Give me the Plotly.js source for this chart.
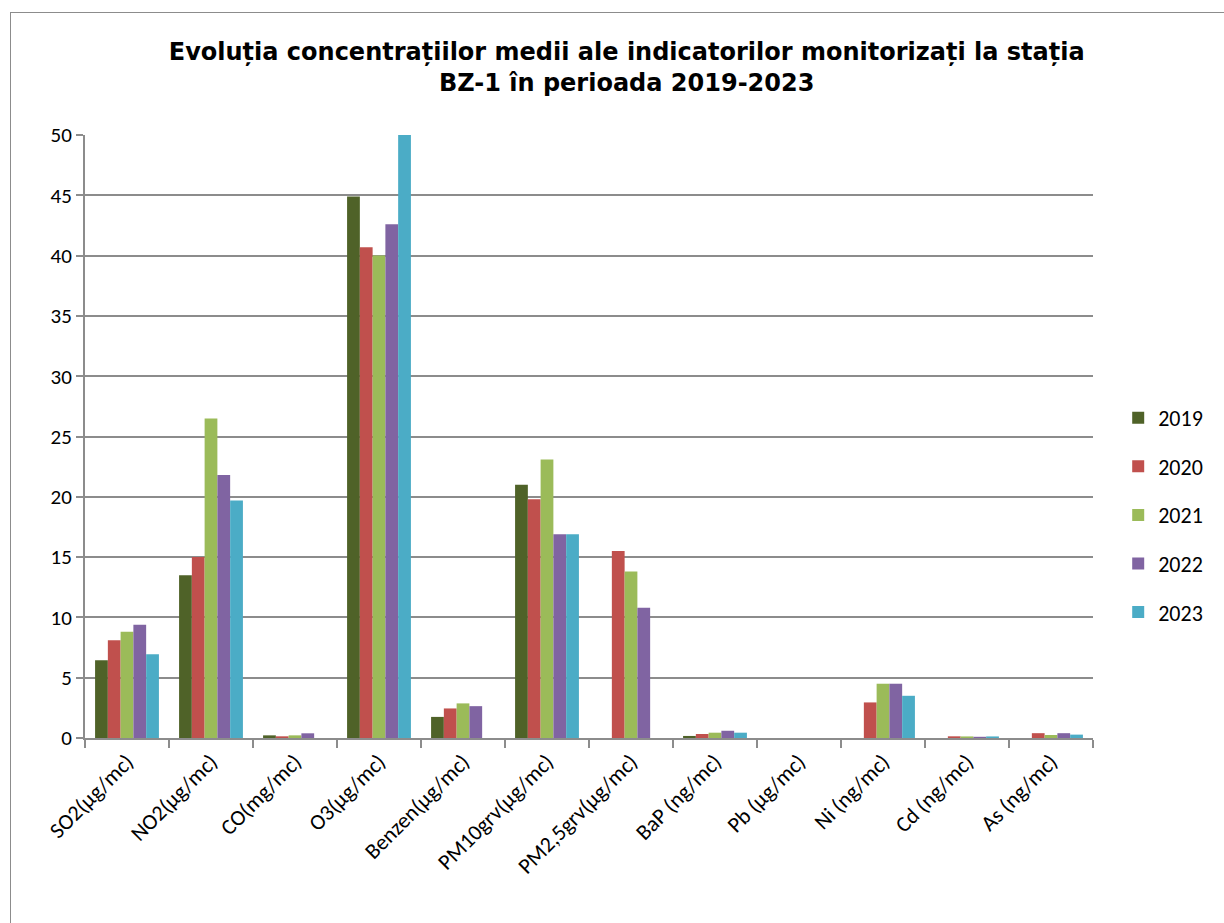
<!DOCTYPE html>
<html>
<head>
<meta charset="utf-8">
<script src="https://cdn.plot.ly/plotly-3.0.1.min.js"></script>
<style>
  html, body { margin: 0; padding: 0; background: #fff; overflow: hidden; }
  #chart { width: 1224px; height: 923px; position: absolute; left: 0; top: 0; }
  #frame { position: absolute; left: 10px; top: 12px; width: 1400px; height: 1100px; border: 1px solid #8c8c8c; pointer-events: none; }
</style>
</head>
<body>
<div id="chart"></div>
<div id="frame"></div>
<script>
const categories = ["SO2(µg/mc)", "NO2(µg/mc)", "CO(mg/mc)", "O3(µg/mc)", "Benzen(µg/mc)", "PM10grv(µg/mc)", "PM2,5grv(µg/mc)", "BaP (ng/mc)", "Pb (µg/mc)", "Ni (ng/mc)", "Cd (ng/mc)", "As (ng/mc)"];
const years = ["2019", "2020", "2021", "2022", "2023"];
const v2019 = [6.45, 13.5, 0.22, 44.9, 1.75, 21.0, null, 0.17, null, null, null, null];
const v2020 = [8.1, 15.0, 0.14, 40.7, 2.45, 19.8, 15.5, 0.33, null, 2.95, 0.14, 0.4];
const v2021 = [8.8, 26.5, 0.22, 40.0, 2.87, 23.1, 13.8, 0.44, null, 4.5, 0.13, 0.25];
const v2022 = [9.4, 21.8, 0.39, 42.6, 2.64, 16.9, 10.8, 0.6, null, 4.5, 0.1, 0.4];
const v2023 = [6.95, 19.7, null, 50.0, null, 16.9, null, 0.44, null, 3.5, 0.13, 0.28];
const colors = ["#4f6228", "#c0504d", "#9bbb59", "#8064a2", "#4bacc6"];

const series = [v2019, v2020, v2021, v2022, v2023];
const font = "Carlito, Lato, 'Liberation Sans', sans-serif";

const data = series.map((vals, i) => ({
  type: "bar",
  name: years[i],
  x: categories,
  y: vals,
  marker: { color: colors[i], line: { width: 0 } },
  legendgroup: years[i],
  hoverinfo: "x+y+name"
}));

const layout = {
  width: 1224,
  height: 923,
  paper_bgcolor: "#ffffff",
  plot_bgcolor: "#ffffff",
  margin: { l: 85, r: 131, t: 135, b: 185, autoexpand: false },
  barmode: "group",
  bargap: 0.24,
  bargroupgap: 0,
  title: {
    text: "Evoluția concentrațiilor medii ale indicatorilor monitorizați la stația<br>BZ-1 în perioada 2019-2023",
    font: { family: "'DejaVu Sans', Verdana, sans-serif", size: 24, color: "#000", weight: "bold" },
    x: 0.512, xanchor: "center",
    y: 0.935, yanchor: "top"
  },
  xaxis: {
    type: "category",
    tickangle: -45,
    tickfont: { family: font, size: 22, color: "#000" },
    showline: true, linecolor: "#8c8c8c", linewidth: 2,
    ticks: "outside", ticklen: 8, tickcolor: "#8c8c8c", tickwidth: 2,
    tickson: "boundaries",
    showgrid: false
  },
  yaxis: {
    range: [0, 50],
    dtick: 5,
    tickfont: { family: font, size: 21, color: "#000" },
    showline: true, linecolor: "#8c8c8c", linewidth: 2,
    ticks: "outside", ticklen: 7, tickcolor: "#8c8c8c", tickwidth: 2,
    showgrid: true, gridcolor: "#8c8c8c", gridwidth: 2,
    zeroline: false
  },
  legend: {
    x: 1.025, xanchor: "left",
    y: 0.37, yanchor: "middle",
    font: { family: font, size: 22, color: "#000" },
    tracegroupgap: 17,
    bgcolor: "rgba(0,0,0,0)"
  },
  showlegend: true
};

Plotly.newPlot("chart", data, layout, { displayModeBar: false, staticPlot: true });
</script>
</body>
</html>
